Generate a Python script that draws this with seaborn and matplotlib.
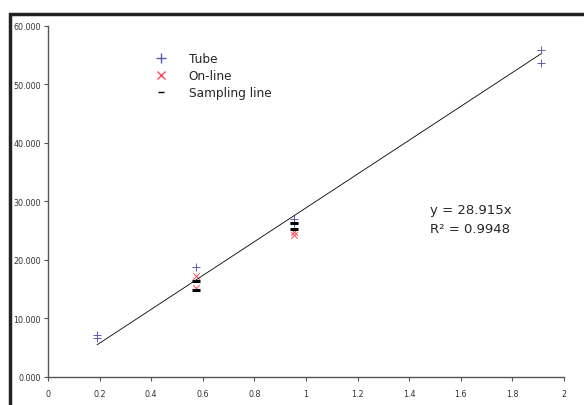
import numpy as np
import pandas as pd
import seaborn as sns
import matplotlib.pyplot as plt
from matplotlib.lines import Line2D
from matplotlib.patches import Rectangle

# values
tube_x = [0.19, 0.19, 0.575, 0.955, 0.955, 1.91, 1.91]
tube_y = [7.2, 6.6, 18.8, 27.0, 26.4, 55.9, 53.6]
online_x = [0.575, 0.575, 0.955, 0.955]
online_y = [17.2, 15.2, 24.7, 24.2]
sampling_x = [0.575, 0.575, 0.955, 0.955]
sampling_y = [16.4, 14.9, 26.3, 25.3]
slope = 28.915
r2 = 0.9948
x_ticks = [0, 0.2, 0.4, 0.6, 0.8, 1, 1.2, 1.4, 1.6, 1.8, 2]
y_ticks = [0, 10, 20, 30, 40, 50, 60]

tube_color = '#5c5cb0'
online_color = '#ff4a5a'

sns.set_style('white')
plt.rcParams['font.family'] = ['DejaVu Sans']

fig = plt.figure(figsize=(5.84, 4.06), dpi=100)
ax = fig.add_axes([0.0822, 0.069, 0.8836, 0.8645])

# trend line through origin
fit_x = np.array([min(tube_x), max(tube_x)])
sns.lineplot(x=fit_x, y=slope * fit_x, color='black', linewidth=0.6, ax=ax)

sns.scatterplot(x=tube_x, y=tube_y, marker='+', color=tube_color, s=30,
                linewidth=0.7, ax=ax)
sns.scatterplot(x=online_x, y=online_y, marker='x', color=online_color, s=22,
                linewidth=0.7, ax=ax)
sns.scatterplot(x=sampling_x, y=sampling_y, marker='_', color='black', s=40,
                linewidth=2.2, ax=ax)

ax.set_xlim(0, 2)
ax.set_ylim(0, 60)
ax.set_xticks(x_ticks)
ax.set_xticklabels([f'{t:g}' for t in x_ticks])
ax.set_yticks(y_ticks)
ax.set_yticklabels([f'{t}.000' for t in y_ticks])
ax.tick_params(axis='both', labelsize=5.8, labelcolor='#333333', length=3,
               width=0.8, color='#555555', direction='out')
ax.tick_params(axis='x', pad=6)
ax.tick_params(axis='y', pad=2)
ax.xaxis.set_ticks_position('bottom')
ax.yaxis.set_ticks_position('left')
for side in ['top', 'right']:
    ax.spines[side].set_visible(False)
for side in ['left', 'bottom']:
    ax.spines[side].set_color('#555555')
    ax.spines[side].set_linewidth(1.0)

handles = [
    Line2D([], [], marker='+', linestyle='none', color=tube_color, markersize=7, markeredgewidth=1),
    Line2D([], [], marker='x', linestyle='none', color=online_color, markersize=5.5, markeredgewidth=1),
    Line2D([], [], marker='_', linestyle='none', color='black', markersize=5, markeredgewidth=1),
]
ax.legend(handles, ['Tube', 'On-line', 'Sampling line'], loc='upper left',
          bbox_to_anchor=(0.186, 0.94), frameon=False, fontsize=8.7,
          handletextpad=1.3, labelspacing=0.35, borderaxespad=0)

ax.text(1.48, 28.7, f'y = {slope}x', fontsize=9.5, va='center', ha='left')
ax.text(1.48, 25.4, f'R² = {r2}', fontsize=9.5, va='center', ha='left')

# chart area border (cropped at right and bottom)
fig.patches.append(Rectangle((10 / 584, -0.1), 1.2, 1 - 15 / 406 + 0.1,
                             transform=fig.transFigure, fill=False,
                             edgecolor='#222222', linewidth=2.5, zorder=10))

fig.savefig('out.png', dpi=100)
